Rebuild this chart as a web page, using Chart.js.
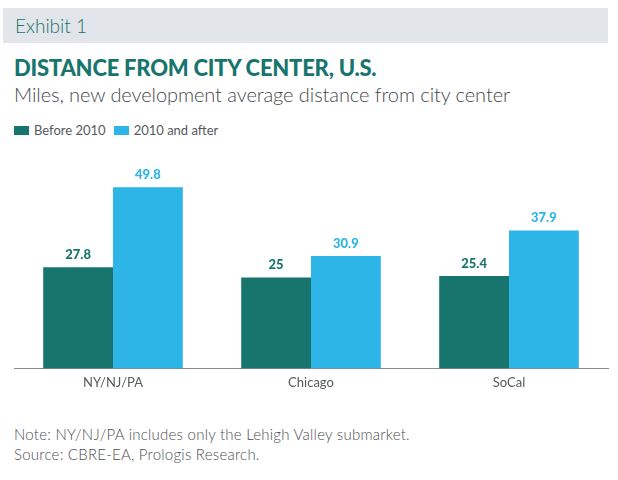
<!DOCTYPE html>
<html>
<head>
<meta charset="utf-8">
<script src="https://cdn.jsdelivr.net/npm/chart.js@4"></script>
<style>
  html, body { margin: 0; padding: 0; background: #fff; }
  body { width: 618px; height: 480px; position: relative; overflow: hidden; font-family: "Lato", sans-serif; }
  .exhibit { position: absolute; left: 3px; top: 8px; width: 605px; height: 35px; background: #e2e5e9; color: #17756d; font-size: 19px; font-weight: 300; line-height: 35px; text-indent: 12px; }
  .title { position: absolute; left: 14px; top: 54px; color: #17756d; font-size: 22px; font-weight: 900; letter-spacing: -0.22px; white-space: nowrap; }
  .subtitle { position: absolute; left: 14px; top: 82px; color: #45494c; font-size: 20px; font-weight: 300; letter-spacing: -0.08px; white-space: nowrap; }
  .note { position: absolute; left: 14px; top: 424px; color: #4d5053; font-size: 15px; font-weight: 300; line-height: 20px; letter-spacing: 0.24px; }
  .legend { position: absolute; left: 14px; top: 122px; height: 16px; color: #55595c; font-size: 13px; line-height: 16px; white-space: nowrap; }
  .legend i { display: inline-block; width: 15px; height: 9px; margin-right: 5px; }
  .legend span { margin-right: 8px; }
  #wrap { position: absolute; left: 0; top: 150px; width: 618px; height: 248px; }
</style>
</head>
<body>
<div class="exhibit">Exhibit 1</div>
<div class="title">DISTANCE FROM CITY CENTER, U.S.</div>
<div class="subtitle">Miles, new development average distance from city center</div>
<div class="legend" id="legend"></div>
<div id="wrap"><canvas id="chart" width="618" height="248"></canvas></div>
<div class="note">Note: NY/NJ/PA includes only the Lehigh Valley submarket.<br>Source: CBRE-EA, Prologis Research.</div>
<script>
const categories = ["NY/NJ/PA", "Chicago", "SoCal"];
const seriesNames = ["Before 2010", "2010 and after"];
const before2010 = [27.8, 25, 25.4];
const after2010 = [49.8, 30.9, 37.9];
const seriesColors = ["#17756d", "#2db5e8"];

// 범례
document.getElementById("legend").innerHTML = seriesNames
  .map((name, i) => `<i style="background:${seriesColors[i]}"></i><span>${name}</span>`)
  .join("");

// 막대 위에 값 표시
const valueLabels = {
  id: "valueLabels",
  afterDatasetsDraw(chart) {
    const c = chart.ctx;
    chart.data.datasets.forEach((ds, i) => {
      chart.getDatasetMeta(i).data.forEach((bar, j) => {
        c.save();
        c.fillStyle = ds.backgroundColor;
        c.font = "900 13px Lato";
        c.textAlign = "center";
        c.textBaseline = "bottom";
        c.fillText(ds.data[j], bar.x, bar.y - 6);
        c.restore();
      });
    });
  },
};

new Chart(document.getElementById("chart").getContext("2d"), {
  type: "bar",
  data: {
    labels: categories,
    datasets: [
      { label: seriesNames[0], data: before2010, backgroundColor: seriesColors[0], categoryPercentage: 0.705, barPercentage: 1 },
      { label: seriesNames[1], data: after2010, backgroundColor: seriesColors[1], categoryPercentage: 0.705, barPercentage: 1 },
    ],
  },
  options: {
    responsive: false,
    animation: false,
    layout: { padding: { left: 14, right: 10, top: 0, bottom: 0 } },
    scales: {
      x: {
        grid: { display: false, drawTicks: false },
        border: { color: "#888", width: 1 },
        ticks: { color: "#55595c", font: { family: "Lato", size: 13 }, padding: 7 },
      },
      y: { display: false, min: 0, max: 60 },
    },
    plugins: {
      legend: { display: false },
      tooltip: { enabled: false },
    },
  },
  plugins: [valueLabels],
});
</script>
</body>
</html>
